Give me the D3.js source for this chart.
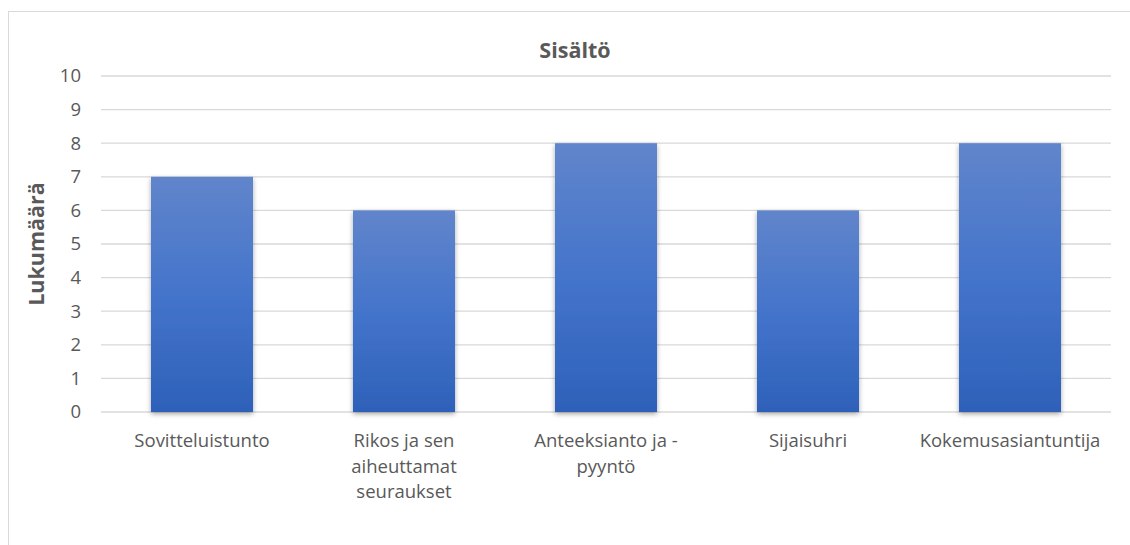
<!DOCTYPE html>
<html><head><meta charset="utf-8">
<script src="https://cdn.jsdelivr.net/npm/d3@7/dist/d3.min.js"></script>
<style>body{margin:0;background:#fff;}svg{display:block;font-family:"Open Sans","Liberation Sans",sans-serif;}</style>
</head><body>
<script>
const categories = ["Sovitteluistunto", "Rikos ja sen aiheuttamat seuraukset", "Anteeksianto ja - pyyntö", "Sijaisuhri", "Kokemusasiantuntija"];
const categoryLines = [["Sovitteluistunto"], ["Rikos ja sen", "aiheuttamat", "seuraukset"], ["Anteeksianto ja -", "pyyntö"], ["Sijaisuhri"], ["Kokemusasiantuntija"]];
const values = [7, 6, 8, 6, 8];
const yTicks = [0,1,2,3,4,5,6,7,8,9,10];
const title = "Sisältö";
const yTitle = "Lukumäärä";

(function(){
const W = 1130, H = 545;
const FONT = "'Open Sans','Liberation Sans',sans-serif";
const svg = d3.select("body").append("svg").attr("width", W).attr("height", H);

const defs = svg.append("defs");
const grad = defs.append("linearGradient").attr("id","bg").attr("x1",0).attr("y1",0).attr("x2",0).attr("y2",1);
grad.append("stop").attr("offset","0%").attr("stop-color","#6185cb");
grad.append("stop").attr("offset","50%").attr("stop-color","#4474cb");
grad.append("stop").attr("offset","100%").attr("stop-color","#2e61b9");
const f = defs.append("filter").attr("id","sh").attr("x","-20%").attr("y","-10%").attr("width","140%").attr("height","125%");
f.append("feDropShadow").attr("dx",0).attr("dy",2).attr("stdDeviation",2.5).attr("flood-color","#000").attr("flood-opacity",0.35);

svg.append("rect").attr("x",8.5).attr("y",11.5).attr("width",1200).attr("height",600)
  .attr("fill","none").attr("stroke","#d9d9d9").attr("stroke-width",1);

const pl = 101, pr = 1111, pt = 76, pb = 412;
const x = d3.scaleBand().domain(categories).range([pl, pr]).paddingInner(0.495).paddingOuter(0.2475);
const y = d3.scaleLinear().domain([0, 10]).range([pb, pt]);

svg.append("g").selectAll("line").data(yTicks).join("line")
  .attr("x1", pl).attr("x2", pr)
  .attr("y1", d => y(d)).attr("y2", d => y(d))
  .attr("stroke", "#d9d9d9").attr("stroke-width", 1.3);

const yAxis = d3.axisLeft(y).tickValues(yTicks).tickSize(0).tickPadding(0).tickFormat(d3.format("d"));
const ya = svg.append("g").attr("transform", `translate(${pl-20},0)`).call(yAxis);
ya.select(".domain").remove();
ya.selectAll("text").attr("font-size", 18.5).attr("fill", "#595959").attr("font-family", FONT);

svg.append("g").selectAll("rect").data(values).join("rect")
  .attr("x", (d,i) => x(categories[i]))
  .attr("width", x.bandwidth())
  .attr("y", d => y(d))
  .attr("height", d => y(0) - y(d))
  .attr("fill", "url(#bg)")
  .attr("filter", "url(#sh)");

const xl = svg.append("g");
categories.forEach((c,i) => {
  const cx = x(c) + x.bandwidth()/2;
  const t = xl.append("text").attr("x", cx).attr("y", 447)
    .attr("text-anchor","middle").attr("font-size",18.5).attr("fill","#595959");
  categoryLines[i].forEach((l,j) => t.append("tspan").attr("x", cx).attr("dy", j===0?0:25.5).text(l));
});

svg.append("text").attr("x", 575).attr("y", 58).attr("text-anchor","middle")
  .attr("font-size", 21.5).attr("font-weight","bold").attr("fill","#595959").text(title);

svg.append("text").attr("transform","translate(44,244) rotate(-90)").attr("text-anchor","middle")
  .attr("font-size", 21.5).attr("font-weight","bold").attr("fill","#595959").text(yTitle);
})();
</script>
</body></html>
